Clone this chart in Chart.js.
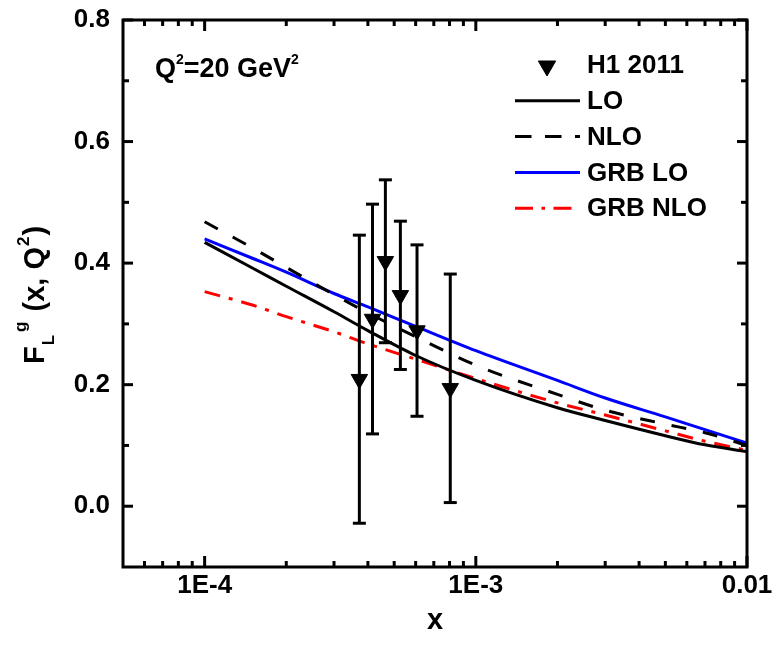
<!DOCTYPE html>
<html>
<head>
<meta charset="utf-8">
<script src="https://cdn.jsdelivr.net/npm/chart.js@4.4.0/dist/chart.umd.min.js"></script>
<style>
  html, body { margin: 0; padding: 0; background: #fff; }
  canvas { display: block; }
</style>
</head>
<body>
<canvas id="chart" width="775" height="654"></canvas>
<script>
// H1 2011 data, Q^2 = 20 GeV^2
const h1X = [0.000372, 0.000416, 0.000464, 0.000527, 0.000607, 0.000805];
const h1Y = [0.209, 0.308, 0.403, 0.347, 0.289, 0.194];
const h1Err = [0.237, 0.189, 0.134, 0.122, 0.141, 0.188];

// model curves on a log grid in x
const xGrid = [1e-4, 1.5e-4, 2e-4, 3e-4, 4e-4, 6e-4, 1e-3, 2e-3, 3e-3, 5e-3, 7e-3, 1e-2];
const loValues = [0.434, 0.392, 0.362, 0.320, 0.289, 0.248, 0.207, 0.162, 0.141, 0.116, 0.101, 0.090];
const nloValues = [0.468, 0.425, 0.393, 0.348, 0.318, 0.279, 0.232, 0.184, 0.158, 0.135, 0.121, 0.100];
const grbLoValues = [0.440, 0.408, 0.385, 0.350, 0.328, 0.296, 0.256, 0.207, 0.178, 0.147, 0.126, 0.104];
const grbNloValues = [0.353, 0.331, 0.312, 0.287, 0.267, 0.242, 0.210, 0.170, 0.150, 0.124, 0.107, 0.092];

const xTickValues = [1e-4, 1e-3, 1e-2];
const xTickLabels = ['1E-4', '1E-3', '0.01'];
const xMinorTicks = [6e-5, 7e-5, 8e-5, 9e-5,
  2e-4, 3e-4, 4e-4, 5e-4, 6e-4, 7e-4, 8e-4, 9e-4,
  2e-3, 3e-3, 4e-3, 5e-3, 6e-3, 7e-3, 8e-3, 9e-3];
const yTickValues = [0, 0.2, 0.4, 0.6, 0.8];
const yTickLabels = ['0.0', '0.2', '0.4', '0.6', '0.8'];
const yMinorTicks = [0.1, 0.3, 0.5, 0.7];

const FONT = '"Liberation Sans", Arial, Helvetica, sans-serif';
Chart.defaults.font.family = FONT;
Chart.defaults.color = '#000';

const toPoints = (xs, ys) => xs.map((x, i) => ({ x: x, y: ys[i] }));

function line(ctx, x1, y1, x2, y2) {
  ctx.beginPath();
  ctx.moveTo(x1, y1);
  ctx.lineTo(x2, y2);
  ctx.stroke();
}

// error bars on the H1 points, then the box frame with inward ticks
const axesAndBars = {
  id: 'axesAndBars',
  afterDatasetsDraw(chart) {
    const ctx = chart.ctx;
    const a = chart.chartArea;
    const xs = chart.scales.x;
    const ys = chart.scales.y;
    ctx.save();
    ctx.strokeStyle = '#000';
    ctx.lineWidth = 3;
    ctx.lineCap = 'butt';

    h1X.forEach((xv, i) => {
      const px = xs.getPixelForValue(xv);
      const top = ys.getPixelForValue(h1Y[i] + h1Err[i]);
      const bot = ys.getPixelForValue(h1Y[i] - h1Err[i]);
      line(ctx, px, top, px, bot);
      line(ctx, px - 6.5, top, px + 6.5, top);
      line(ctx, px - 6.5, bot, px + 6.5, bot);
    });

    const xTick = (v, len) => {
      const px = xs.getPixelForValue(v);
      line(ctx, px, a.bottom, px, a.bottom - len);
      line(ctx, px, a.top, px, a.top + len);
    };
    const yTick = (v, len) => {
      const py = ys.getPixelForValue(v);
      line(ctx, a.left, py, a.left + len, py);
      line(ctx, a.right, py, a.right - len, py);
    };
    xTickValues.forEach(v => xTick(v, 11));
    xMinorTicks.forEach(v => xTick(v, 6));
    yTickValues.forEach(v => yTick(v, 10));
    yMinorTicks.forEach(v => yTick(v, 6));

    ctx.lineJoin = 'miter';
    ctx.strokeRect(a.left, a.top, a.right - a.left, a.bottom - a.top);
    ctx.restore();
  }
};

// rotated y title with sub/superscripts, the Q^2 note and the legend
const texts = {
  id: 'texts',
  afterDraw(chart) {
    const ctx = chart.ctx;
    const big = 'bold 29px ' + FONT;
    const mid = 'bold 26px ' + FONT;
    const note27 = 'bold 27px ' + FONT;
    const small = 'bold 17px ' + FONT;
    const tiny = 'bold 14px ' + FONT;
    ctx.save();
    ctx.fillStyle = '#000';
    ctx.textAlign = 'left';
    ctx.textBaseline = 'alphabetic';

    ctx.save();
    ctx.translate(44, 364);
    ctx.rotate(-Math.PI / 2);
    let u = 0;
    const put = (t, f, v, gap) => {
      ctx.font = f;
      ctx.fillText(t, u, v);
      u += ctx.measureText(t).width + (gap || 0);
    };
    put('F', big, 0, 1);
    put('L', small, 10, 3);
    put('g', small, -18, 2);
    put(' (x, Q', big, 0, 1);
    put('2', small, -15, 1);
    put(')', big, 0);
    ctx.restore();

    let x = 155;
    const note = (t, f, base) => {
      ctx.font = f;
      ctx.fillText(t, x, base);
      x += ctx.measureText(t).width;
    };
    note('Q', note27, 77);
    note('2', tiny, 64);
    note('=20 GeV', note27, 77);
    note('2', tiny, 64);

    // legend rows
    ctx.font = mid;
    ctx.textBaseline = 'middle';
    chart.data.datasets.forEach((ds, i) => {
      const yRow = 65 + i * 35.8;
      if (ds.showLine === false) {
        ctx.fillStyle = '#000';
        ctx.strokeStyle = '#000';
        ctx.lineWidth = 1;
        Chart.helpers.drawPoint(ctx, { pointStyle: 'triangle', rotation: 180, radius: 10, borderWidth: 1 }, 547, yRow + 1);
      } else {
        ctx.strokeStyle = ds.borderColor;
        ctx.lineWidth = ds.borderWidth;
        ctx.setLineDash(ds.legendDash || ds.borderDash || []);
        line(ctx, 515, yRow, ds.legendEnd || 580, yRow);
        ctx.setLineDash([]);
      }
      ctx.fillStyle = '#000';
      ctx.fillText(ds.label, 587, yRow + 1);
    });
    ctx.restore();
  }
};

new Chart(document.getElementById('chart'), {
  type: 'line',
  data: {
    datasets: [
      {
        label: 'H1 2011',
        data: toPoints(h1X, h1Y),
        showLine: false,
        pointStyle: 'triangle',
        pointRotation: 180,
        pointRadius: 9.5,
        backgroundColor: '#000',
        borderColor: '#000',
        borderWidth: 1
      },
      {
        label: 'LO',
        data: toPoints(xGrid, loValues),
        borderColor: '#000',
        borderWidth: 3,
        pointRadius: 0,
        cubicInterpolationMode: 'monotone'
      },
      {
        label: 'NLO',
        data: toPoints(xGrid, nloValues),
        borderColor: '#000',
        borderWidth: 3,
        borderDash: [15, 17],
        legendDash: [16.5, 13.5],
        pointRadius: 0,
        cubicInterpolationMode: 'monotone'
      },
      {
        label: 'GRB LO',
        data: toPoints(xGrid, grbLoValues),
        borderColor: '#0000ff',
        borderWidth: 3,
        pointRadius: 0,
        cubicInterpolationMode: 'monotone'
      },
      {
        label: 'GRB NLO',
        data: toPoints(xGrid, grbNloValues),
        borderColor: '#ff0000',
        borderWidth: 3,
        borderDash: [16, 9, 4, 9],
        legendDash: [18, 8.5, 3.5, 8.5],
        legendEnd: 572,
        pointRadius: 0,
        cubicInterpolationMode: 'monotone'
      }
    ]
  },
  options: {
    responsive: false,
    animation: false,
    layout: { padding: { left: 0, top: 20, right: 28, bottom: 0 } },
    plugins: {
      legend: { display: false },
      tooltip: { enabled: false }
    },
    scales: {
      x: {
        type: 'logarithmic',
        min: 5e-5,
        max: 1e-2,
        grid: { display: false, drawTicks: false },
        border: { display: false },
        afterBuildTicks: s => { s.ticks = xTickValues.map(v => ({ value: v })); },
        afterFit: s => { s.height = 87; s.paddingLeft = 0; s.paddingRight = 0; },
        ticks: {
          autoSkip: false,
          maxRotation: 0,
          padding: 3,
          font: { size: 26, weight: 'bold' },
          callback: (v, i) => xTickLabels[i]
        },
        title: {
          display: true,
          text: 'x',
          font: { size: 29, weight: 'bold' },
          padding: { top: 0, bottom: 16 }
        }
      },
      y: {
        min: -0.1,
        max: 0.8,
        grid: { display: false, drawTicks: false },
        border: { display: false },
        afterBuildTicks: s => { s.ticks = yTickValues.map(v => ({ value: v })); },
        afterFit: s => { s.width = 123; s.paddingTop = 0; s.paddingBottom = 0; },
        ticks: {
          autoSkip: false,
          padding: 13,
          font: { size: 26, weight: 'bold' },
          callback: (v, i) => yTickLabels[i]
        }
      }
    }
  },
  plugins: [axesAndBars, texts]
});
</script>
</body>
</html>
